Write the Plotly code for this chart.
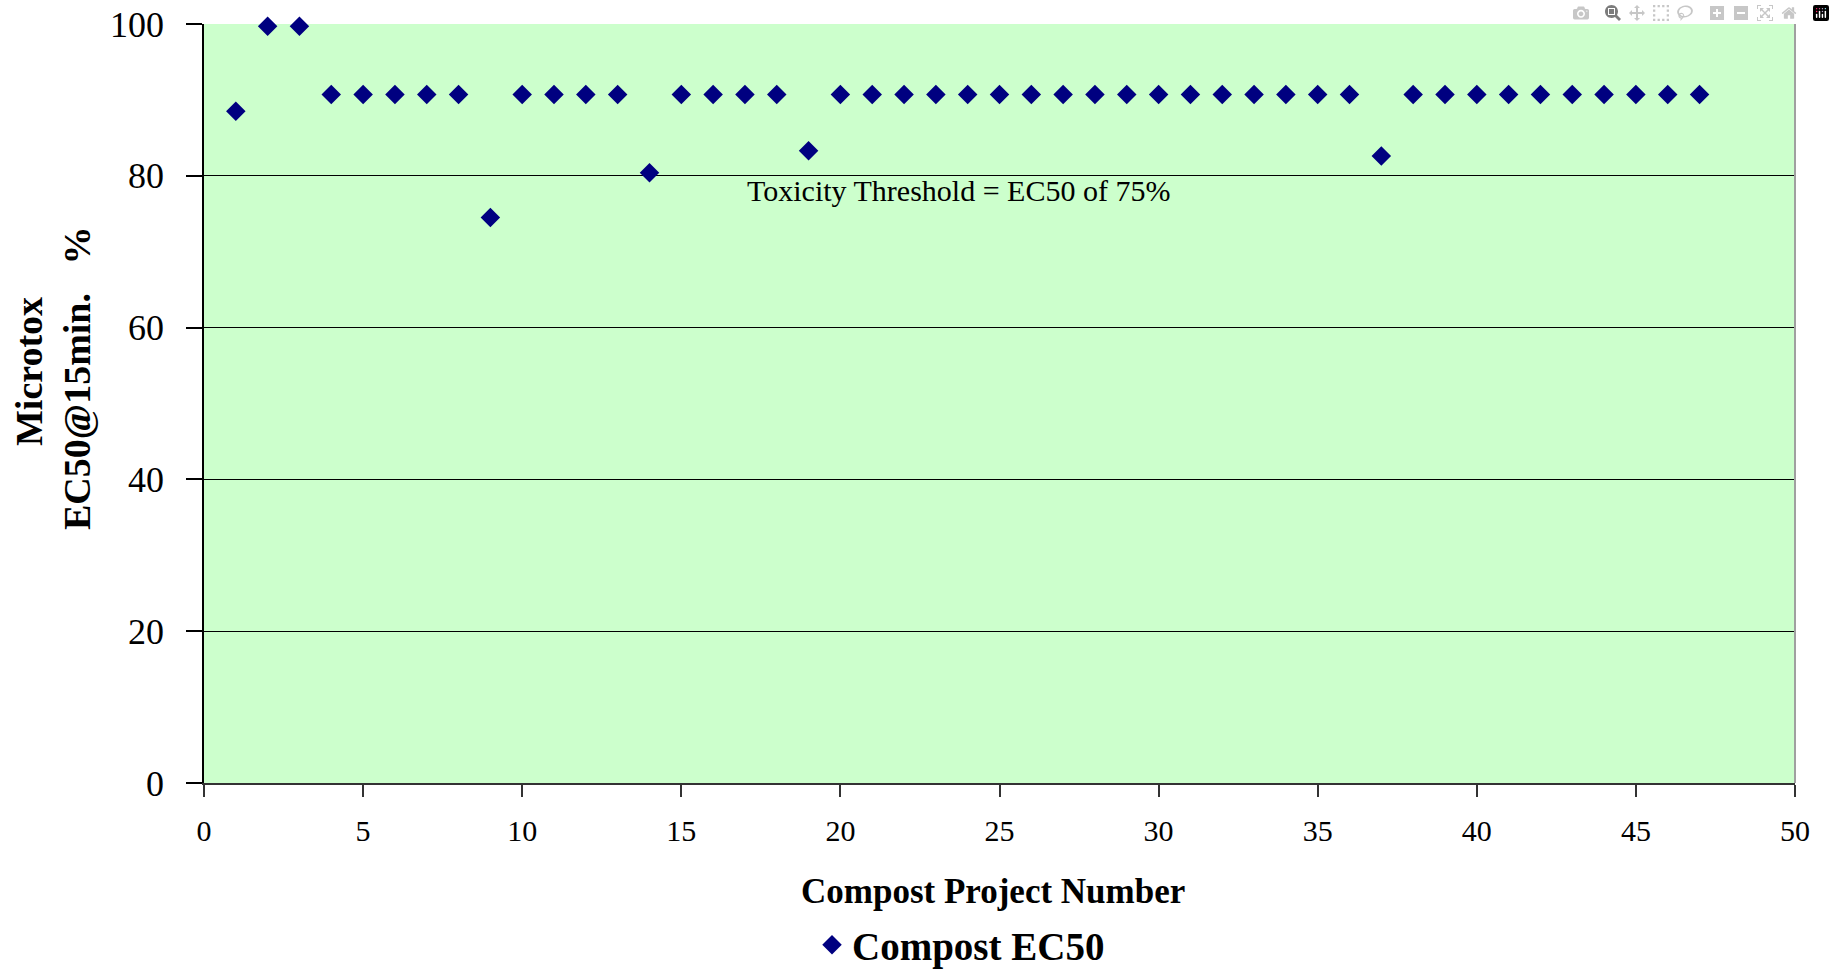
import plotly.graph_objects as go

# Data
project_numbers = list(range(1, 48))
ec50_values = [
    88.5, 99.7, 99.7, 90.7, 90.7, 90.7, 90.7, 90.7, 74.5, 90.7,
    90.7, 90.7, 90.7, 80.4, 90.7, 90.7, 90.7, 90.7, 83.3, 90.7,
    90.7, 90.7, 90.7, 90.7, 90.7, 90.7, 90.7, 90.7, 90.7, 90.7,
    90.7, 90.7, 90.7, 90.7, 90.7, 90.7, 82.6, 90.7, 90.7, 90.7,
    90.7, 90.7, 90.7, 90.7, 90.7, 90.7, 90.7,
]
x_ticks = [0, 5, 10, 15, 20, 25, 30, 35, 40, 45, 50]
y_ticks = [0, 20, 40, 60, 80, 100]
series_name = "Compost EC50"
threshold_text = "Toxicity Threshold = EC50 of 75%"

W, H = 1835, 970
L, R, T, B = 204, 40, 24, 187
PW, PH = W - L - R, H - T - B


def px_to_paper(px, py):
    return (px - L) / PW, (H - B - py) / PH


FONT = "Liberation Serif"

fig = go.Figure()
fig.add_trace(go.Scatter(
    x=project_numbers, y=ec50_values, mode="markers", name=series_name,
    marker=dict(symbol="diamond", size=15, color="#000080", line=dict(width=0)),
    cliponaxis=False,
))

annotations = []
# Threshold text
annotations.append(dict(x=17.0, y=78.1, xref="x", yref="y", text=threshold_text,
                        showarrow=False, xanchor="left", yanchor="middle",
                        font=dict(family=FONT, size=30, color="black")))
# Y title (two lines)
ax, ay = px_to_paper(29, 372)
annotations.append(dict(x=ax, y=ay, xref="paper", yref="paper", text="<b>Microtox</b>",
                        showarrow=False, textangle=-90, xanchor="center", yanchor="middle",
                        font=dict(family=FONT, size=38, color="black")))
ax, ay = px_to_paper(77, 379)
annotations.append(dict(x=ax, y=ay, xref="paper", yref="paper",
                        text="<b>EC50@15min.\u00a0\u00a0\u00a0%</b>",
                        showarrow=False, textangle=-90, xanchor="center", yanchor="middle",
                        font=dict(family=FONT, size=38, color="black")))
# X title
ax, ay = px_to_paper(993, 891)
annotations.append(dict(x=ax, y=ay, xref="paper", yref="paper",
                        text="<b>Compost Project Number</b>",
                        showarrow=False, xanchor="center", yanchor="middle",
                        font=dict(family=FONT, size=35, color="black")))

lx, ly = px_to_paper(812, 945)

fig.update_layout(
    width=W, height=H,
    margin=dict(l=L, r=R, t=T, b=B, pad=0, autoexpand=False),
    paper_bgcolor="white",
    plot_bgcolor="#CCFFCC",
    font=dict(family=FONT, color="black"),
    showlegend=True,
    legend=dict(x=lx, y=ly, xanchor="left", yanchor="middle", orientation="h",
                font=dict(family=FONT, size=39, color="black", weight="bold"),
                bgcolor="rgba(0,0,0,0)"),
    annotations=annotations,
    shapes=[dict(type="line", xref="paper", yref="paper", x0=1, x1=1, y0=0, y1=1,
                 line=dict(color="#a0a0a0", width=2))],
)

fig.update_xaxes(
    range=[0, 50], tickmode="array", tickvals=x_ticks, ticktext=[str(v) for v in x_ticks],
    showgrid=False, zeroline=False, showline=True, linecolor="#333333", linewidth=2,
    ticks="outside", ticklen=12, tickwidth=1.5, tickcolor="#333333",
    tickfont=dict(family=FONT, size=30, color="black"), ticklabelstandoff=8,
)
fig.update_yaxes(
    range=[0, 100], tickmode="array", tickvals=y_ticks, ticktext=[str(v) for v in y_ticks],
    showgrid=True, gridcolor="black", gridwidth=1.2, zeroline=False,
    showline=True, linecolor="black", linewidth=1.5,
    ticks="outside", ticklen=16, tickwidth=1.5, tickcolor="black",
    tickfont=dict(family=FONT, size=36, color="black"), ticklabelstandoff=15,
)

fig.write_html("out.html", post_script="document.body.style.margin='0';document.body.style.overflow='hidden';")
